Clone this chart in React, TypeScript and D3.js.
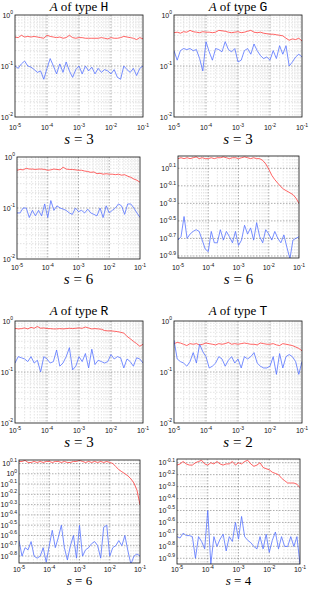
import React from "react";
import * as d3 from "d3";

// ---------- data ----------
const xExponents = [-5, -4.9, -4.8, -4.7, -4.6, -4.5, -4.4, -4.3, -4.2, -4.1, -4, -3.9, -3.8, -3.7, -3.6, -3.5, -3.4, -3.3, -3.2, -3.1, -3, -2.9, -2.8, -2.7, -2.6, -2.5, -2.4, -2.3, -2.2, -2.1, -2, -1.9, -1.8, -1.7, -1.6, -1.5, -1.4, -1.3, -1.2, -1.1, -1];
const xTickExponents = [-5, -4, -3, -2, -1];

const redH3 = [0.37, 0.36, 0.40, 0.37, 0.38, 0.37, 0.38, 0.37, 0.36, 0.35, 0.40, 0.38, 0.37, 0.36, 0.37, 0.35, 0.36, 0.40, 0.36, 0.35, 0.36, 0.36, 0.35, 0.35, 0.35, 0.35, 0.35, 0.36, 0.35, 0.34, 0.36, 0.35, 0.35, 0.36, 0.38, 0.37, 0.36, 0.35, 0.33, 0.36, 0.34];
const blueH3 = [0.10, 0.09, 0.11, 0.125, 0.10, 0.095, 0.085, 0.075, 0.08, 0.055, 0.09, 0.14, 0.10, 0.07, 0.11, 0.075, 0.12, 0.08, 0.06, 0.085, 0.10, 0.07, 0.10, 0.08, 0.095, 0.07, 0.09, 0.075, 0.085, 0.08, 0.07, 0.085, 0.06, 0.055, 0.10, 0.085, 0.075, 0.09, 0.065, 0.09, 0.10];

const redG3 = [0.45, 0.46, 0.44, 0.47, 0.46, 0.50, 0.47, 0.46, 0.45, 0.47, 0.46, 0.46, 0.45, 0.46, 0.50, 0.49, 0.48, 0.46, 0.45, 0.46, 0.47, 0.45, 0.46, 0.48, 0.50, 0.46, 0.45, 0.46, 0.44, 0.43, 0.42, 0.42, 0.41, 0.40, 0.39, 0.35, 0.32, 0.34, 0.33, 0.35, 0.31];
const blueG3 = [0.20, 0.13, 0.20, 0.22, 0.21, 0.22, 0.20, 0.21, 0.14, 0.08, 0.30, 0.19, 0.13, 0.22, 0.21, 0.19, 0.30, 0.21, 0.19, 0.22, 0.12, 0.13, 0.20, 0.22, 0.17, 0.27, 0.20, 0.16, 0.14, 0.15, 0.13, 0.20, 0.14, 0.25, 0.17, 0.25, 0.10, 0.12, 0.15, 0.17, 0.15];

const redH6 = [0.55, 0.57, 0.56, 0.60, 0.58, 0.58, 0.57, 0.58, 0.58, 0.57, 0.55, 0.56, 0.58, 0.57, 0.56, 0.63, 0.58, 0.57, 0.57, 0.56, 0.55, 0.55, 0.53, 0.52, 0.50, 0.51, 0.47, 0.48, 0.46, 0.47, 0.46, 0.46, 0.45, 0.46, 0.44, 0.45, 0.42, 0.40, 0.37, 0.35, 0.32];
const blueH6 = [0.08, 0.08, 0.10, 0.10, 0.065, 0.09, 0.07, 0.09, 0.07, 0.12, 0.065, 0.14, 0.09, 0.11, 0.10, 0.095, 0.09, 0.08, 0.075, 0.10, 0.085, 0.09, 0.08, 0.095, 0.08, 0.075, 0.07, 0.10, 0.065, 0.11, 0.08, 0.09, 0.10, 0.12, 0.11, 0.075, 0.12, 0.12, 0.10, 0.08, 0.065];

const redG6 = [1.622, 1.660, 1.622, 1.660, 1.622, 1.660, 1.698, 1.622, 1.660, 1.622, 1.622, 1.660, 1.622, 1.660, 1.660, 1.698, 1.660, 1.622, 1.660, 1.660, 1.622, 1.660, 1.698, 1.660, 1.622, 1.660, 1.622, 1.622, 1.549, 1.413, 1.230, 1.047, 0.933, 0.851, 0.776, 0.724, 0.692, 0.661, 0.631, 0.575, 0.501];
const blueG6 = [0.191, 0.209, 0.355, 0.200, 0.224, 0.240, 0.251, 0.240, 0.191, 0.151, 0.141, 0.240, 0.178, 0.178, 0.251, 0.191, 0.240, 0.209, 0.178, 0.240, 0.166, 0.191, 0.282, 0.224, 0.263, 0.191, 0.302, 0.209, 0.178, 0.251, 0.224, 0.191, 0.240, 0.200, 0.178, 0.219, 0.158, 0.117, 0.191, 0.200, 0.209];

const redR3 = [0.72, 0.70, 0.71, 0.73, 0.70, 0.75, 0.72, 0.78, 0.72, 0.73, 0.71, 0.71, 0.70, 0.70, 0.71, 0.70, 0.71, 0.72, 0.71, 0.72, 0.73, 0.72, 0.76, 0.73, 0.70, 0.71, 0.70, 0.69, 0.65, 0.64, 0.64, 0.63, 0.62, 0.60, 0.58, 0.50, 0.45, 0.40, 0.36, 0.32, 0.35];
const blueR3 = [0.15, 0.20, 0.19, 0.18, 0.16, 0.20, 0.15, 0.17, 0.10, 0.20, 0.18, 0.15, 0.16, 0.27, 0.13, 0.15, 0.20, 0.30, 0.11, 0.13, 0.20, 0.16, 0.23, 0.12, 0.28, 0.14, 0.17, 0.16, 0.15, 0.16, 0.22, 0.18, 0.20, 0.19, 0.12, 0.18, 0.16, 0.13, 0.19, 0.18, 0.15];

const redT2 = [0.36, 0.38, 0.37, 0.35, 0.33, 0.36, 0.35, 0.36, 0.34, 0.35, 0.37, 0.36, 0.35, 0.34, 0.36, 0.35, 0.36, 0.38, 0.35, 0.36, 0.35, 0.36, 0.37, 0.36, 0.35, 0.35, 0.34, 0.37, 0.36, 0.35, 0.35, 0.36, 0.34, 0.33, 0.36, 0.35, 0.34, 0.33, 0.31, 0.29, 0.26];
const blueT2 = [0.42, 0.18, 0.16, 0.15, 0.13, 0.16, 0.24, 0.15, 0.35, 0.25, 0.20, 0.12, 0.13, 0.15, 0.20, 0.18, 0.13, 0.17, 0.20, 0.15, 0.18, 0.12, 0.20, 0.18, 0.20, 0.24, 0.15, 0.13, 0.12, 0.12, 0.13, 0.20, 0.09, 0.23, 0.12, 0.20, 0.22, 0.20, 0.16, 0.09, 0.16];

const redR6 = [1.318, 1.318, 1.349, 1.288, 1.288, 1.318, 1.288, 1.318, 1.288, 1.318, 1.318, 1.288, 1.318, 1.318, 1.288, 1.318, 1.288, 1.288, 1.318, 1.318, 1.349, 1.318, 1.288, 1.318, 1.288, 1.318, 1.288, 1.318, 1.288, 1.318, 1.288, 1.259, 1.175, 1.096, 1.047, 1.000, 0.955, 0.891, 0.813, 0.692, 0.501];
const blueR6 = [0.224, 0.158, 0.191, 0.182, 0.219, 0.158, 0.151, 0.158, 0.191, 0.138, 0.200, 0.282, 0.191, 0.240, 0.316, 0.191, 0.145, 0.200, 0.251, 0.151, 0.316, 0.158, 0.182, 0.191, 0.209, 0.219, 0.200, 0.151, 0.302, 0.316, 0.158, 0.191, 0.200, 0.224, 0.200, 0.251, 0.178, 0.132, 0.158, 0.166, 0.158];

const redT4 = [0.759, 0.776, 0.813, 0.776, 0.759, 0.759, 0.794, 0.813, 0.832, 0.776, 0.759, 0.794, 0.776, 0.813, 0.776, 0.759, 0.776, 0.776, 0.813, 0.759, 0.794, 0.776, 0.813, 0.832, 0.776, 0.741, 0.759, 0.794, 0.724, 0.708, 0.692, 0.661, 0.646, 0.631, 0.589, 0.562, 0.537, 0.537, 0.537, 0.525, 0.490];
const blueT4 = [0.191, 0.186, 0.204, 0.195, 0.195, 0.191, 0.126, 0.191, 0.174, 0.151, 0.316, 0.112, 0.191, 0.158, 0.182, 0.200, 0.145, 0.191, 0.174, 0.251, 0.182, 0.282, 0.191, 0.178, 0.170, 0.158, 0.151, 0.191, 0.151, 0.200, 0.141, 0.178, 0.209, 0.151, 0.191, 0.158, 0.158, 0.191, 0.158, 0.191, 0.112];

const decadeYTicks = [-2, -1, 0];
const g6YTicks = [0.1, -0.1, -0.3, -0.5, -0.7, -0.9];
const r6YTicks = [0.1, 0, -0.1, -0.2, -0.3, -0.4, -0.5, -0.6, -0.7, -0.8];
const t4YTicks = [-0.1, -0.2, -0.3, -0.4, -0.5, -0.6, -0.7, -0.8, -0.9];

const matrixTypes = ["H", "G", "H", "G", "R", "T", "R", "T"];
const sValues = ["3", "3", "6", "6", "3", "2", "6", "4"];
const redSeries = [redH3, redG3, redH6, redG6, redR3, redT2, redR6, redT4];
const blueSeries = [blueH3, blueG3, blueH6, blueG6, blueR3, blueT2, blueR6, blueT4];
const yTickSets = [decadeYTicks, decadeYTicks, decadeYTicks, g6YTicks, decadeYTicks, decadeYTicks, r6YTicks, t4YTicks];
const yDomains: [number, number][] = [[-2, 0], [-2, 0], [-2, 0], [-0.923, 0.24], [-2, 0], [-2, 0], [-0.868, 0.134], [-0.948, -0.069]];

// ---------- layout ----------
const layout = [
  { x0: 15, x1: 143, y0: 15, y1: 117, title: 11, xl: 130, sl: 144, fs: 15 },
  { x0: 174, x1: 302, y0: 15, y1: 117, title: 11, xl: 130, sl: 144, fs: 15 },
  { x0: 17, x1: 140, y0: 157, y1: 259, title: 0, xl: 270, sl: 284, fs: 15 },
  { x0: 178, x1: 299, y0: 156, y1: 258, title: 0, xl: 270, sl: 284, fs: 15 },
  { x0: 15, x1: 143, y0: 321, y1: 423, title: 315, xl: 433, sl: 447, fs: 15 },
  { x0: 174, x1: 302, y0: 321, y1: 423, title: 315, xl: 433, sl: 447, fs: 15 },
  { x0: 19, x1: 140, y0: 460, y1: 563, title: 0, xl: 572, sl: 585, fs: 13 },
  { x0: 177, x1: 300, y0: 459, y1: 564, title: 0, xl: 572, sl: 585, fs: 13 },
];

const SANS = "'Liberation Sans', Arial, sans-serif";
const SERIF = "'Liberation Serif', 'DejaVu Serif', serif";
const MONO = "'Liberation Mono', 'DejaVu Sans Mono', monospace";

function fmtExp(e: number) {
  const r = Math.round(e * 10) / 10;
  return r === 0 ? "0" : String(r);
}

function Panel({ idx }: { idx: number }) {
  const L = layout[idx];
  const x = d3.scaleLog().domain([1e-5, 1e-1]).range([L.x0, L.x1]);
  const dom = yDomains[idx];
  const y = d3.scaleLog().domain([Math.pow(10, dom[0]), Math.pow(10, dom[1])]).range([L.y1, L.y0]);
  const xs = xExponents.map((e) => Math.pow(10, e));
  const line = d3
    .line<number>()
    .x((_, i) => x(xs[i]))
    .y((d) => y(d));

  const minorX: number[] = [];
  for (let d = -5; d <= -2; d++) for (let k = 2; k <= 9; k++) minorX.push(k * Math.pow(10, d));
  const majorX = xTickExponents.map((e) => Math.pow(10, e));

  const isDecade = dom[0] === -2 && dom[1] === 0;
  const minorY: number[] = [];
  if (isDecade) for (let d = -2; d <= -1; d++) for (let k = 2; k <= 9; k++) minorY.push(k * Math.pow(10, d));
  const ticks = yTickSets[idx];
  const majorY = ticks.map((t) => Math.pow(10, t));
  const clipId = `clip${idx}`;
  const cx = (L.x0 + L.x1) / 2;

  return (
    <g>
      <defs>
        <clipPath id={clipId}>
          <rect x={L.x0} y={L.y0} width={L.x1 - L.x0} height={L.y1 - L.y0} />
        </clipPath>
      </defs>
      <rect x={L.x0} y={L.y0} width={L.x1 - L.x0} height={L.y1 - L.y0} fill="#fff" />
      {minorX.map((v, i) => (
        <line key={"mx" + i} x1={x(v)} x2={x(v)} y1={L.y0} y2={L.y1} stroke="#c8c8c8" strokeWidth={0.5} strokeDasharray="1.5,1.5" />
      ))}
      {minorY.map((v, i) => (
        <line key={"my" + i} x1={L.x0} x2={L.x1} y1={y(v)} y2={y(v)} stroke="#c8c8c8" strokeWidth={0.5} strokeDasharray="1.5,1.5" />
      ))}
      {majorX.slice(1, -1).map((v, i) => (
        <line key={"Mx" + i} x1={x(v)} x2={x(v)} y1={L.y0} y2={L.y1} stroke="#777" strokeWidth={0.6} strokeDasharray="1.5,1.5" />
      ))}
      {majorY.map((v, i) => {
        const yy = y(v);
        if (yy <= L.y0 + 0.5 || yy >= L.y1 - 0.5) return null;
        return <line key={"My" + i} x1={L.x0} x2={L.x1} y1={yy} y2={yy} stroke="#777" strokeWidth={0.6} strokeDasharray="1.5,1.5" />;
      })}
      <g clipPath={`url(#${clipId})`}>
        <path d={line(redSeries[idx]) || ""} fill="none" stroke="#ff3c3c" strokeWidth={0.8} />
        <path d={line(blueSeries[idx]) || ""} fill="none" stroke="#5572ff" strokeWidth={0.8} />
      </g>
      <rect x={L.x0} y={L.y0} width={L.x1 - L.x0} height={L.y1 - L.y0} fill="none" stroke="#111" strokeWidth={0.8} />
      {majorX.map((v, i) => (
        <text key={"xt" + i} x={x(v)} y={L.xl} textAnchor="middle" fontFamily={SANS} fontSize={7} fill="#111">
          10<tspan dy={-3.5} fontSize={5}>{fmtExp(xTickExponents[i])}</tspan>
        </text>
      ))}
      {ticks.map((t, i) => (
        <text key={"yt" + i} x={L.x0 - 2} y={y(Math.pow(10, t)) + 2.5} textAnchor="end" fontFamily={SANS} fontSize={7} fill="#111">
          10<tspan dy={-3.5} fontSize={5}>{fmtExp(t)}</tspan>
        </text>
      ))}
      {L.title > 0 && (
        <text x={cx} y={L.title} textAnchor="middle" fontFamily={SERIF} fontSize={13} fill="#000">
          <tspan fontStyle="italic">A</tspan> of type <tspan fontFamily={MONO}>{matrixTypes[idx]}</tspan>
        </text>
      )}
      <text x={cx} y={L.sl} textAnchor="middle" fontFamily={SERIF} fontSize={L.fs} fill="#000">
        <tspan fontStyle="italic">s</tspan> = {sValues[idx]}
      </text>
    </g>
  );
}

export default function App() {
  return (
    <svg width={310} height={589} viewBox="0 0 310 589" style={{ position: "absolute", left: 0, top: 0, background: "#fff" }}>
      <rect x={0} y={0} width={310} height={589} fill="#fff" />
      {layout.map((_, i) => (
        <Panel key={i} idx={i} />
      ))}
    </svg>
  );
}
